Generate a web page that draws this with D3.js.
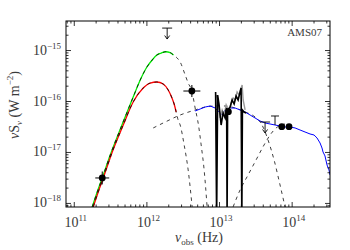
<!DOCTYPE html>
<html>
<head>
<meta charset="utf-8">
<script src="https://cdn.jsdelivr.net/npm/d3@7"></script>
<style>
  body { margin: 0; background: #fff; }
  text { font-family: "Liberation Serif", "DejaVu Serif", serif; fill: #3a3a3a; }
</style>
</head>
<body>
<div id="container"></div>
<script>
// all values are log10(nu / Hz) and log10(nuS_nu / W m^-2)

// cold dust, upper fit (green + dashed)
var greenNu = [11.254, 11.323, 11.392, 11.502, 11.663, 11.818, 11.915, 12.007, 12.080, 12.144, 12.204, 12.268, 12.327, 12.373, 12.424, 12.465, 12.534, 12.575, 12.626, 12.671, 12.717, 12.754, 12.795, 12.836];
var greenS  = [-18.078, -17.784, -17.510, -17.059, -16.471, -15.922, -15.588, -15.333, -15.196, -15.098, -15.059, -15.033, -15.049, -15.098, -15.157, -15.235, -15.490, -15.647, -15.804, -16.137, -16.471, -16.863, -17.353, -18.078];

// cold dust, lower fit (red + dashed)
var redNu = [11.268, 11.337, 11.406, 11.530, 11.681, 11.818, 11.956, 12.052, 12.144, 12.231, 12.300, 12.341, 12.382, 12.410, 12.437, 12.465, 12.520, 12.575, 12.630];
var redS  = [-18.078, -17.784, -17.510, -17.000, -16.471, -16.020, -15.745, -15.647, -15.627, -15.667, -15.784, -15.902, -16.059, -16.216, -16.373, -16.471, -16.863, -17.353, -18.078];

// warm component (dashed)
var warmNu = [12.094, 12.259, 12.465, 12.671, 12.809, 12.946, 13.084, 13.221, 13.359, 13.496, 13.592, 13.675, 13.758, 13.840, 13.909];
var warmS  = [-16.529, -16.412, -16.275, -16.176, -16.118, -16.098, -16.098, -16.137, -16.216, -16.314, -16.471, -16.765, -17.157, -17.647, -18.078];

// stellar component (dashed)
var starNu = [13.194, 13.290, 13.400, 13.510, 13.620, 13.703, 13.786, 13.909];
var starS  = [-18.078, -17.745, -17.451, -17.157, -16.863, -16.667, -16.529, -16.451];

// total model (blue)
var blueNu = [12.671, 12.740, 12.809, 12.878, 12.946, 13.001, 13.043, 13.084, 13.153, 13.221, 13.290, 13.359, 13.428, 13.496, 13.565, 13.634, 13.703, 13.771, 13.840, 13.909, 13.978, 14.047, 14.116, 14.184, 14.253, 14.308, 14.349, 14.391, 14.418, 14.432, 14.459, 14.487, 14.514, 14.528];
var blueS  = [-16.196, -16.157, -16.118, -16.098, -16.137, -16.216, -16.275, -16.176, -16.137, -16.137, -16.176, -16.216, -16.275, -16.333, -16.392, -16.431, -16.451, -16.471, -16.490, -16.510, -16.510, -16.529, -16.569, -16.608, -16.647, -16.667, -16.725, -16.824, -16.922, -17.000, -17.078, -17.255, -17.353, -17.451];

// IRS spectrum (black) and its errors (grey)
var specNu = [12.953, 12.967, 12.981, 13.001, 13.029, 13.056, 13.084, 13.105, 13.111, 13.118, 13.153, 13.180, 13.208, 13.235, 13.263, 13.290, 13.304, 13.314, 13.322, 13.345, 13.373];
var specS  = [-15.824, -18.3, -15.882, -16.078, -16.471, -16.235, -16.333, -16.137, -18.3, -16.176, -16.118, -15.980, -16.059, -15.902, -15.980, -15.824, -15.745, -18.3, -16.176, -16.216, -16.235];
var greyNu = [12.960, 12.988, 13.015, 13.043, 13.070, 13.098, 13.139, 13.166, 13.194, 13.221, 13.249, 13.276, 13.318, 13.332, 13.359];
var greyS  = [-15.882, -15.980, -16.333, -16.176, -16.275, -16.078, -16.216, -16.039, -15.941, -15.980, -15.824, -15.882, -15.686, -15.980, -16.176];

// photometry
var ptNu  = [11.392, 12.626, 13.129, 13.864, 13.964];
var ptS   = [-17.510, -15.804, -16.210, -16.504, -16.504];
var ptNuErr = [0.096, 0.117, 0, 0, 0];
var ptSErr  = [0.127, 0.118, 0, 0, 0];

// upper limits
var ulNu  = [12.286, 13.634];
var ulS   = [-14.569, -16.412];
var ulLen = [0.215, 0.215];

// error bar without point
var capNu = [13.771];
var capHi = [-16.294];
var capLo = [-16.471];

var xTicks = [11, 12, 13, 14];
var yTicks = [-18, -17, -16, -15];

var W = 350, H = 250;
var margin = {top: 21, right: 20, bottom: 43, left: 66};
var width = W - margin.left - margin.right,
    height = H - margin.top - margin.bottom;

var svg = d3.select("#container").append("svg")
  .attr("width", W).attr("height", H);

var x = d3.scaleLog().domain([Math.pow(10, 10.893), Math.pow(10, 14.528)]).range([0, width]);
var y = d3.scaleLog().domain([Math.pow(10, -18.08), Math.pow(10, -14.43)]).range([height, 0]);

var p = function(v) { return Math.pow(10, v); };

svg.append("clipPath").attr("id", "clip")
  .append("rect").attr("width", width).attr("height", height);

var g = svg.append("g")
  .attr("transform", "translate(" + margin.left + "," + margin.top + ")");

var plot = g.append("g").attr("clip-path", "url(#clip)");

function zipLog(nu, s) {
  return nu.map(function(d, i) { return [p(d), p(s[i])]; });
}
var line = d3.line().x(function(d) { return x(d[0]); }).y(function(d) { return y(d[1]); });
var curve = d3.line().curve(d3.curveMonotoneX).x(function(d) { return x(d[0]); }).y(function(d) { return y(d[1]); });

// colored solid parts of the cold dust fits
var greenPts = zipLog(greenNu, greenS), redPts = zipLog(redNu, redS);
plot.append("path").datum(greenPts.filter(function(d) { return d[0] <= p(12.40); }))
  .attr("d", curve).attr("fill", "none").attr("stroke", "#00f000").attr("stroke-width", 1.3);
plot.append("path").datum(redPts.filter(function(d) { return d[0] <= p(12.42); }))
  .attr("d", curve).attr("fill", "none").attr("stroke", "#ff0000").attr("stroke-width", 1.3);

// dashed components
[greenPts, redPts, zipLog(warmNu, warmS), zipLog(starNu, starS)].forEach(function(pts) {
  plot.append("path").datum(pts)
    .attr("d", curve).attr("fill", "none")
    .attr("stroke", "#000").attr("stroke-width", 0.75)
    .attr("stroke-dasharray", "3.5,4");
});

// blue total
plot.append("path").datum(zipLog(blueNu, blueS))
  .attr("d", line).attr("fill", "none").attr("stroke", "#0000ff").attr("stroke-width", 1);

// spectrum
plot.append("path").datum(zipLog(greyNu, greyS))
  .attr("d", line).attr("fill", "none").attr("stroke", "#999").attr("stroke-width", 1.4);
plot.append("path").datum(zipLog(specNu, specS))
  .attr("d", line).attr("fill", "none").attr("stroke", "#000").attr("stroke-width", 1.6);

// points with error bars
var pts = ptNu.map(function(d, i) { return {nu: d, s: ptS[i], ex: ptNuErr[i], ey: ptSErr[i]}; });
var pg = plot.append("g").attr("stroke", "#000").attr("stroke-width", 1);
pg.selectAll("line.ex").data(pts.filter(function(d) { return d.ex > 0; })).enter().append("line")
  .attr("x1", function(d) { return x(p(d.nu - d.ex)); })
  .attr("x2", function(d) { return x(p(d.nu + d.ex)); })
  .attr("y1", function(d) { return y(p(d.s)); })
  .attr("y2", function(d) { return y(p(d.s)); });
pg.selectAll("line.ey").data(pts.filter(function(d) { return d.ey > 0; })).enter().append("line")
  .attr("x1", function(d) { return x(p(d.nu)); })
  .attr("x2", function(d) { return x(p(d.nu)); })
  .attr("y1", function(d) { return y(p(d.s - d.ey)); })
  .attr("y2", function(d) { return y(p(d.s + d.ey)); });
plot.selectAll("circle.pt").data(pts).enter().append("circle")
  .attr("cx", function(d) { return x(p(d.nu)); })
  .attr("cy", function(d) { return y(p(d.s)); })
  .attr("r", 3.4).attr("fill", "#000");

// upper limits
ulNu.forEach(function(nu, i) {
  var cx = x(p(nu)), y0 = y(p(ulS[i])), y1 = y(p(ulS[i] - ulLen[i]));
  var u = plot.append("g").attr("stroke", "#000").attr("stroke-width", 0.9).attr("fill", "none");
  u.append("line").attr("x1", cx - 5).attr("x2", cx + 5).attr("y1", y0).attr("y2", y0);
  u.append("line").attr("x1", cx).attr("x2", cx).attr("y1", y0).attr("y2", y1);
  u.append("path").attr("d", "M" + (cx - 2.5) + "," + (y1 - 3.5) + "L" + cx + "," + y1 + "L" + (cx + 2.5) + "," + (y1 - 3.5));
});

capNu.forEach(function(nu, i) {
  var cx = x(p(nu));
  var c = plot.append("g").attr("stroke", "#000").attr("stroke-width", 0.9);
  c.append("line").attr("x1", cx - 4).attr("x2", cx + 4).attr("y1", y(p(capHi[i]))).attr("y2", y(p(capHi[i])));
  c.append("line").attr("x1", cx).attr("x2", cx).attr("y1", y(p(capHi[i]))).attr("y2", y(p(capLo[i])));
});

// axes: ticks inside on all four sides
var minorX = [], minorY = [];
for (var e = 10; e <= 14; e++) for (var m = 2; m <= 9; m++) minorX.push(m * p(e));
for (var e2 = -19; e2 <= -15; e2++) for (var m2 = 2; m2 <= 9; m2++) minorY.push(m2 * p(e2));
minorX = minorX.filter(function(v) { return v > x.domain()[0] && v < x.domain()[1]; });
minorY = minorY.filter(function(v) { return v > y.domain()[0] && v < y.domain()[1]; });

function styleAxis(sel) {
  sel.select(".domain").remove();
  sel.selectAll(".tick line").attr("stroke", "#000").attr("stroke-width", 0.8);
}
[[d3.axisBottom, height, -5, xTicks.map(p)], [d3.axisBottom, height, -2.5, minorX],
 [d3.axisTop, 0, -5, xTicks.map(p)], [d3.axisTop, 0, -2.5, minorX]].forEach(function(a) {
  g.append("g").attr("transform", "translate(0," + a[1] + ")")
    .call(a[0](x).tickValues(a[3]).tickSize(a[2]).tickFormat(""))
    .call(styleAxis);
});
[[d3.axisLeft, 0, -5, yTicks.map(p)], [d3.axisLeft, 0, -2.5, minorY],
 [d3.axisRight, width, -5, yTicks.map(p)], [d3.axisRight, width, -2.5, minorY]].forEach(function(a) {
  g.append("g").attr("transform", "translate(" + a[1] + ",0)")
    .call(a[0](y).tickValues(a[3]).tickSize(a[2]).tickFormat(""))
    .call(styleAxis);
});

g.append("rect").attr("width", width).attr("height", height)
  .attr("fill", "none").attr("stroke", "#000").attr("stroke-width", 1);

// tick labels
xTicks.forEach(function(t) {
  var tx = g.append("text").attr("x", x(p(t)) + 2).attr("y", height + 20)
    .attr("text-anchor", "middle").attr("font-size", 14);
  tx.append("tspan").text("10");
  tx.append("tspan").attr("dy", -6).attr("font-size", 9).text(t);
});
yTicks.forEach(function(t) {
  var tx = g.append("text").attr("x", -5).attr("y", y(p(t)) + 4.5)
    .attr("text-anchor", "end").attr("font-size", 14);
  tx.append("tspan").text("10");
  tx.append("tspan").attr("dy", -6).attr("font-size", 9).text("\u2212" + (-t));
});

// axis titles
var xl = svg.append("text").attr("x", 199).attr("y", 242)
  .attr("text-anchor", "middle").attr("font-size", 14);
xl.append("tspan").attr("font-style", "italic").text("\u03bd");
xl.append("tspan").attr("dy", 3).attr("font-size", 9).text("obs");
xl.append("tspan").attr("dy", -3).text(" (Hz)");

var yl = svg.append("text").attr("transform", "translate(19,105) rotate(-90)")
  .attr("text-anchor", "middle").attr("font-size", 14);
yl.append("tspan").attr("font-style", "italic").text("\u03bd");
yl.append("tspan").text("S");
yl.append("tspan").attr("dy", 3).attr("font-size", 9).attr("font-style", "italic").text("\u03bd");
yl.append("tspan").attr("dy", -3).text(" (W m");
yl.append("tspan").attr("dy", -6).attr("font-size", 9).text("\u22122");
yl.append("tspan").attr("dy", 6).text(")");

g.append("text").attr("x", width - 8).attr("y", 15)
  .attr("text-anchor", "end").attr("font-size", 11).text("AMS07");
</script>
</body>
</html>
